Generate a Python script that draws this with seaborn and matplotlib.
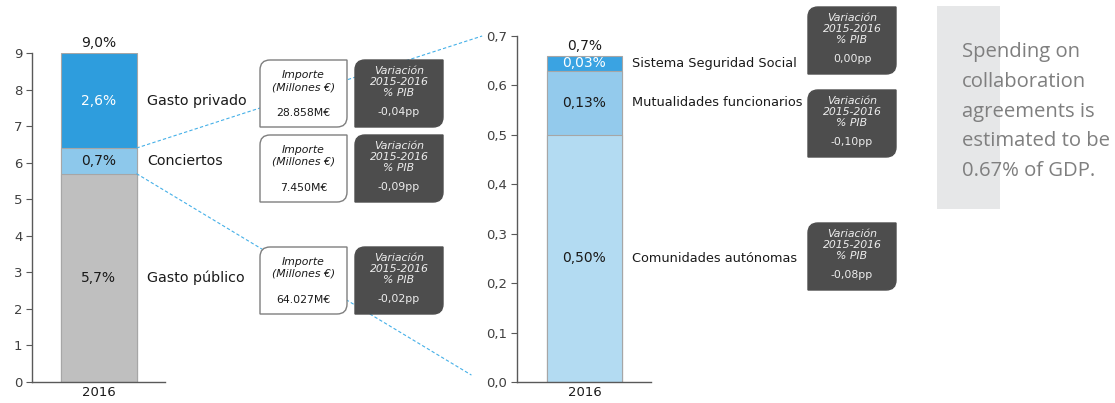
"""
Gasto sanitario 2016 (% PIB) y detalle de los conciertos.
"""

import numpy as np
import pandas as pd
import seaborn as sns
import matplotlib.pyplot as plt
from matplotlib.path import Path
from matplotlib.patches import PathPatch, Rectangle
from matplotlib.lines import Line2D

# ---------------- data ----------------
years = ["2016"]

left_segments = ["Gasto público", "Conciertos", "Gasto privado"]
left_values = [5.7, 0.7, 2.6]
left_labels = ["5,7%", "0,7%", "2,6%"]
left_total = "9,0%"
left_yticks = [0, 1, 2, 3, 4, 5, 6, 7, 8, 9]

right_segments = ["Comunidades autónomas", "Mutualidades funcionarios", "Sistema Seguridad Social"]
right_values = [0.50, 0.13, 0.03]
right_labels = ["0,50%", "0,13%", "0,03%"]
right_total = "0,7%"
right_yticks = [0.0, 0.1, 0.2, 0.3, 0.4, 0.5, 0.6, 0.7]

# boxes, listed top to bottom
amounts = ["28.858M€", "7.450M€", "64.027M€"]
left_variation = ["-0,04pp", "-0,09pp", "-0,02pp"]
right_variation = ["0,00pp", "-0,10pp", "-0,08pp"]

note = "Spending on\ncollaboration\nagreements is\nestimated to be\n0.67% of GDP."

# ---------------- style ----------------
left_colors = ["#BFBFBF", "#8DC8EB", "#2E9DDD"]
left_text_colors = ["#1A1A1A", "#1A1A1A", "white"]
right_colors = ["#B3DBF2", "#93CAEC", "#3AA3E2"]
right_text_colors = ["#1A1A1A", "#1A1A1A", "white"]
dark = "#4D4D4D"
link_color = "#45B0E8"

W, H = 1115, 403
sns.set_style("ticks")
plt.rcParams["font.family"] = ["DejaVu Sans"]

fig = plt.figure(figsize=(W / 100, H / 100), dpi=100)
ax1 = fig.add_axes([32 / W, 21 / H, 133 / W, 329 / H])
ax2 = fig.add_axes([517 / W, 21 / H, 134 / W, 346 / H])


def stacked(ax, values, colors, segments):
    tops = np.cumsum(values)
    df = pd.DataFrame({"year": years * len(values), "segment": segments, "top": tops})
    # draw cumulative bars from the tallest down so they stack visually
    for i in reversed(range(len(values))):
        sns.barplot(data=df.iloc[[i]], x="year", y="top", color=colors[i], saturation=1,
                    width=0.8, edgecolor="#A6A6A6", linewidth=0.8, ax=ax)
    return tops


def dress(ax, ticks, ticklabels, ymax):
    ax.set_ylim(0, ymax)
    ax.set_yticks(ticks)
    ax.set_yticklabels(ticklabels)
    ax.set_xlabel("")
    ax.set_ylabel("")
    sns.despine(ax=ax)
    for s in ["left", "bottom"]:
        ax.spines[s].set_color("#595959")
        ax.spines[s].set_linewidth(1)
    ax.tick_params(axis="y", labelsize=9.5, colors="#595959", labelcolor="#404040", length=4, pad=3)
    ax.tick_params(axis="x", labelsize=9.5, labelcolor="#1A1A1A", length=0, pad=3)


def annotate_bar(ax, values, tops, labels, text_colors, segments, total, seg_size):
    for v, t, lab, c, seg in zip(values, tops, labels, text_colors, segments):
        mid = t - v / 2
        ax.text(0, mid, lab, ha="center", va="center", fontsize=10, color=c)
        ax.annotate(seg, xy=(0.4, mid), xytext=(7.5, 0), textcoords="offset points",
                    ha="left", va="center", fontsize=seg_size, color="#1A1A1A", annotation_clip=False)
    ax.annotate(total, xy=(0, tops[-1]), xytext=(0, 2), textcoords="offset points",
                ha="center", va="bottom", fontsize=10, color="#1A1A1A", annotation_clip=False)


ltops = stacked(ax1, left_values, left_colors, left_segments)
dress(ax1, left_yticks, [str(t) for t in left_yticks], 9)
ax1.set_xlim(-0.7, 0.7)
annotate_bar(ax1, left_values, ltops, left_labels, left_text_colors, left_segments, left_total, 10.3)

rtops = stacked(ax2, right_values, right_colors, right_segments)
dress(ax2, right_yticks, [f"{t:.1f}".replace(".", ",") for t in right_yticks], 0.7)
ax2.set_xlim(-0.72, 0.71)
annotate_bar(ax2, right_values, rtops, right_labels, right_text_colors, right_segments, right_total, 9.3)

# ---------------- overlay in pixel coordinates ----------------
ov = fig.add_axes([0, 0, 1, 1])
ov.set_xlim(0, W)
ov.set_ylim(H, 0)
ov.axis("off")


def to_px(trans, x, y):
    return ov.transData.inverted().transform(trans.transform((x, y)))


# dashed links from the "Conciertos" segment to the detail chart
p1 = to_px(ax1.transData, 0.4, ltops[1])
q1 = to_px(ax2.transAxes, -0.26, 1.0)
p2 = to_px(ax1.transData, 0.4, ltops[0])
q2 = to_px(ax2.transAxes, -0.34, 0.02)
for p, q in [(p1, q1), (p2, q2)]:
    ov.add_line(Line2D([p[0], q[0]], [p[1], q[1]], color=link_color, lw=0.8,
                       linestyle=(0, (3, 2)), zorder=1))


def leaf(x0, y0, x1, y1, r, **kw):
    verts = [(x0, y0 + r), (x0, y1), (x1 - r, y1), (x1, y1), (x1, y1 - r),
             (x1, y0), (x0 + r, y0), (x0, y0), (x0, y0 + r), (x0, y0 + r)]
    codes = [Path.MOVETO, Path.LINETO, Path.LINETO, Path.CURVE3, Path.CURVE3,
             Path.LINETO, Path.LINETO, Path.CURVE3, Path.CURVE3, Path.CLOSEPOLY]
    ov.add_patch(PathPatch(Path(verts, codes), zorder=2, **kw))


def variation_box(x0, y0, value):
    leaf(x0, y0, x0 + 88, y0 + 67, 10, facecolor=dark, edgecolor=dark, lw=1)
    cx = x0 + 44
    for dy, s in [(11, "Variación"), (22, "2015-2016"), (33, "% PIB")]:
        ov.text(cx, y0 + dy, s, ha="center", va="center", fontsize=7.8,
                style="italic", color="#EDEDED", zorder=3)
    ov.text(cx, y0 + 52, value, ha="center", va="center", fontsize=7.8, color="#EDEDED", zorder=3)


left_box_tops = [60, 135, 247]
for top, amt, var in zip(left_box_tops, amounts, left_variation):
    leaf(260, top, 347, top + 67, 10, facecolor="white", edgecolor="#7F7F7F", lw=1)
    ov.text(303.5, top + 15, "Importe", ha="center", va="center", fontsize=7.8,
            style="italic", color="#1A1A1A", zorder=3)
    ov.text(303.5, top + 27, "(Millones €)", ha="center", va="center", fontsize=7.8,
            style="italic", color="#1A1A1A", zorder=3)
    ov.text(303.5, top + 53, amt, ha="center", va="center", fontsize=7.8, color="#1A1A1A", zorder=3)
    variation_box(355, top, var)

right_box_tops = [7, 90, 223]
for top, var in zip(right_box_tops, right_variation):
    variation_box(808, top, var)

# side note
ov.add_patch(Rectangle((937, 6), 63, 203, facecolor="#E6E7E8", edgecolor="none", zorder=1))
ov.text(962, 42, note, ha="left", va="top", fontsize=14.6, family="Open Sans",
        color="#7F7F7F", linespacing=1.65, zorder=3)

fig.savefig("out.png", dpi=100)
